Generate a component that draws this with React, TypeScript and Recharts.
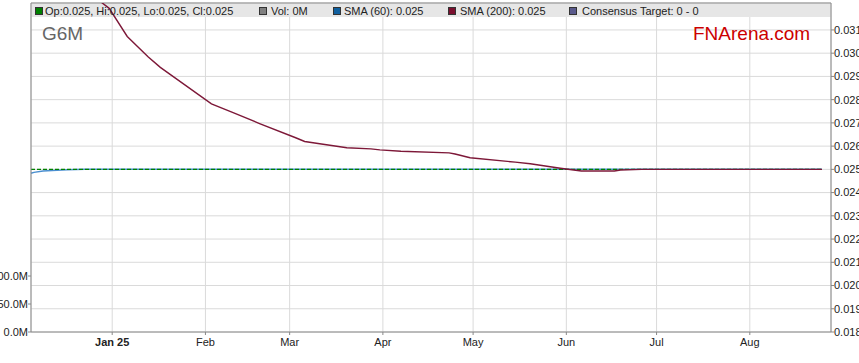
import {
  Bar,
  CartesianGrid,
  ComposedChart,
  Line,
  ReferenceArea,
  ReferenceLine,
  XAxis,
  YAxis,
} from "recharts";

const FONT = "'Liberation Sans', Arial, sans-serif";

const dates = [
  "2024-12-05", "2024-12-06", "2024-12-09", "2024-12-12", "2024-12-17",
  "2024-12-23", "2024-12-27", "2024-12-31", "2025-01-06", "2025-01-13",
  "2025-01-17", "2025-02-03", "2025-02-10", "2025-02-19", "2025-03-03",
  "2025-03-06", "2025-03-11", "2025-03-20", "2025-03-28", "2025-03-31",
  "2025-04-07", "2025-04-23", "2025-04-25", "2025-04-30", "2025-05-15",
  "2025-05-20", "2025-05-30", "2025-06-06", "2025-06-17", "2025-06-19",
  "2025-06-26", "2025-07-21", "2025-08-11", "2025-08-25",
];

const close = dates.map(() => 0.025);

const sma60 = [
  0.02483, 0.02487, 0.02493, 0.02495, 0.02498, 0.025, 0.025, 0.025, 0.025, 0.025,
  0.025, 0.025, 0.025, 0.025, 0.025, 0.025, 0.025, 0.025, 0.025, 0.025,
  0.025, 0.025, 0.025, 0.025, 0.025, 0.025, 0.025, 0.025, 0.025, 0.025,
  0.025, 0.025, 0.025, 0.025,
];

const sma200 = [
  null, null, null, null, null, null, 0.03233, 0.03193, 0.03072, 0.02984,
  0.02939, 0.02782, 0.02745, 0.02697, 0.02636, 0.0262, 0.0261, 0.02593, 0.02588, 0.02584,
  0.02578, 0.02571, 0.02566, 0.0255, 0.02531, 0.02524, 0.02505, 0.02493, 0.02493, 0.02497,
  0.025, 0.025, 0.025, 0.025,
];

const volume = dates.map(() => 0);

const monthTicks = [
  "2025-01-01", "2025-02-01", "2025-03-01", "2025-04-01",
  "2025-05-01", "2025-06-01", "2025-07-01", "2025-08-01",
];
const monthLabels = ["Jan 25", "Feb", "Mar", "Apr", "May", "Jun", "Jul", "Aug"];

const priceTicks = [
  0.018, 0.019, 0.02, 0.021, 0.022, 0.023, 0.024, 0.025, 0.026, 0.027, 0.028,
  0.029, 0.03, 0.031,
];
const volumeTicks = [0, 50, 100];

const dayIndex = (s: string) =>
  (Date.parse(s) - Date.parse("2025-01-01")) / 86400000;

const data = dates.map((d, i) => ({
  day: dayIndex(d),
  close: close[i],
  sma60: sma60[i],
  sma200: sma200[i],
  vol: volume[i],
}));

const xStart = dayIndex("2024-12-05");
const xEnd = dayIndex("2025-08-28");
const priceMax = 0.03216;
const headerBottom = 0.03156;

function MonthTick(props: any) {
  const { x, y, index } = props;
  return (
    <text
      x={x}
      y={y}
      dy="0.71em"
      textAnchor="middle"
      fontSize={11}
      fontFamily={FONT}
      fill="#222"
      fontWeight={index === 0 ? "bold" : "normal"}
    >
      {monthLabels[index]}
    </text>
  );
}

const legendItems = [
  { sq: 35, tx: 45, color: "#008000", label: "Op:0.025, Hi:0.025, Lo:0.025, Cl:0.025" },
  { sq: 259, tx: 271, color: "#808080", label: "Vol: 0M" },
  { sq: 333, tx: 344, color: "#10609f", label: "SMA (60): 0.025" },
  { sq: 448, tx: 460, color: "#7a0f2e", label: "SMA (200): 0.025" },
  { sq: 569, tx: 582, color: "#5a5a8c", label: "Consensus Target: 0 - 0" },
];

export default function App() {
  return (
    <div style={{ position: "absolute", left: 0, top: 0, width: 859, height: 363, background: "#fff" }}>
      <ComposedChart
        width={859}
        height={363}
        data={data}
        margin={{ top: 3, right: 0, bottom: 0, left: 0 }}
      >
        <CartesianGrid stroke="#dadada" yAxisId="price" />
        <XAxis
          dataKey="day"
          type="number"
          domain={[xStart, xEnd]}
          ticks={monthTicks.map(dayIndex)}
          tick={<MonthTick />}
          tickSize={3}
          tickMargin={3}
          height={31}
          stroke="#888"
          interval={0}
        />
        <YAxis
          yAxisId="vol"
          orientation="left"
          width={31}
          domain={[0, 587.5]}
          ticks={volumeTicks}
          tickFormatter={(v: number) => `${v.toFixed(1)}M`}
          tick={{ fontSize: 11, fill: "#222", fontFamily: FONT }}
          tickSize={3}
          tickMargin={0}
          stroke="#888"
          allowDataOverflow
        />
        <YAxis
          yAxisId="price"
          orientation="right"
          width={28}
          domain={[0.018, priceMax]}
          ticks={priceTicks}
          tickFormatter={(v: number) => v.toFixed(3)}
          tick={{ fontSize: 11, fill: "#222", fontFamily: FONT, textAnchor: "start" }}
          tickSize={3}
          tickMargin={0}
          stroke="#888"
          allowDataOverflow
          interval={0}
        />
        <ReferenceArea
          yAxisId="price"
          y1={headerBottom}
          y2={priceMax}
          fill="#e6e6e6"
          fillOpacity={1}
          stroke="none"
        />
        <ReferenceLine yAxisId="price" y={priceMax} stroke="#888" />
        <Bar yAxisId="vol" dataKey="vol" fill="#808080" isAnimationActive={false} />
        <Line
          yAxisId="price"
          dataKey="sma60"
          stroke="#4a8fd0"
          strokeWidth={1.5}
          dot={false}
          type="linear"
          isAnimationActive={false}
        />
        <Line
          yAxisId="price"
          dataKey="close"
          stroke="#008000"
          strokeWidth={1.3}
          strokeDasharray="4 2"
          dot={false}
          type="linear"
          isAnimationActive={false}
        />
        <Line
          yAxisId="price"
          dataKey="sma200"
          stroke="#7d1838"
          strokeWidth={1.4}
          dot={false}
          type="linear"
          connectNulls={false}
          isAnimationActive={false}
        />
      </ComposedChart>
      <svg
        width={859}
        height={363}
        style={{ position: "absolute", left: 0, top: 0, pointerEvents: "none" }}
        fontFamily={FONT}
      >
        {legendItems.map((it) => (
          <g key={it.label}>
            <rect x={it.sq + 0.5} y={7.5} width={7} height={7} fill={it.color} stroke="#333" strokeWidth={1} />
            <text x={it.tx} y={14.5} fontSize={11} fill="#222">
              {it.label}
            </text>
          </g>
        ))}
        <text x={42} y={40} fontSize={19} fill="#666">
          G6M
        </text>
        <text x={693} y={40} fontSize={19} fill="#cc0000">
          FNArena.com
        </text>
      </svg>
    </div>
  );
}
